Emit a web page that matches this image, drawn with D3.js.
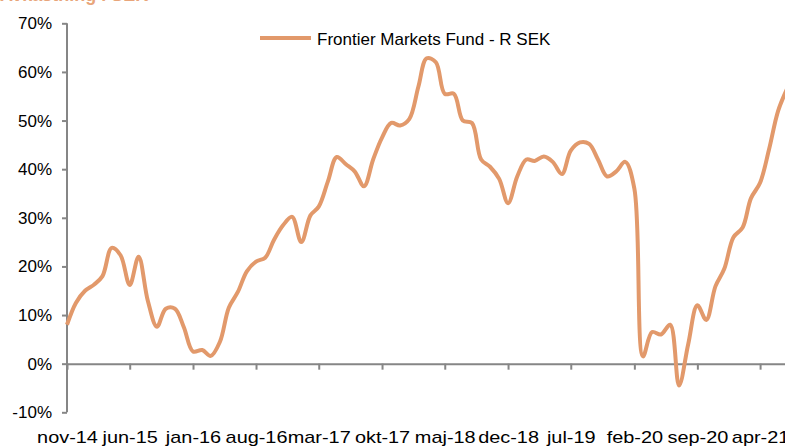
<!DOCTYPE html>
<meta charset="utf-8">
<style>
body { margin: 0; background: #fff; }
svg { display: block; font-family: "Liberation Sans", Arial, sans-serif; }
.line { fill: none; stroke: #e2996b; stroke-width: 4px; }
.axis path, .axis line { stroke: #868686; stroke-width: 2px; }
.axis text { fill: #000; font-size: 17px; }
</style>
<body>
<div id="chart"></div>
<script src="https://d3js.org/d3.v7.min.js"></script>
<script>
// data, one value per month from nov-14
var startMonth = "2014-11";
var fundName = "Frontier Markets Fund - R SEK";
var fundValues = [
  8.0, 12.5, 15.0, 16.3, 18.0, 23.8, 22.3, 16.2, 22.0, 13.0,
  7.6, 11.3, 11.3, 7.5, 2.5, 2.8, 1.6, 4.5, 11.5, 14.8,
  19.0, 21.0, 21.8, 25.5, 28.5, 30.2, 25.0, 30.5, 32.3, 37.5,
  42.5, 41.0, 39.5, 36.5, 42.0, 46.5, 49.5, 49.0, 50.3, 57.0,
  62.8, 62.0, 55.5, 55.5, 50.0, 49.5, 42.0, 40.5, 38.0, 33.0,
  38.5, 42.0, 41.7, 42.6, 41.5, 39.0, 43.8, 45.5, 45.2, 42.0,
  38.5, 39.5, 41.5, 36.0, 1.5, 6.5, 6.0, 8.0, -4.5, 4.0,
  12.0, 9.0, 15.9, 19.5, 26.0, 28.0, 34.0, 37.2, 44.0, 52.0,
  56.5
];
var tickLabels = ["nov-14", "jun-15", "jan-16", "aug-16", "mar-17", "okt-17",
                  "maj-18", "dec-18", "jul-19", "feb-20", "sep-20", "apr-21"];
var yTicks = [-10, 0, 10, 20, 30, 40, 50, 60, 70];

var width = 785, height = 446;

var parseMonth = d3.timeParse("%Y-%m");
var start = parseMonth(startMonth);
var data = fundValues.map(function(v, i) {
  return { date: d3.timeMonth.offset(start, i), value: v };
});

// x: 9px per month, the chart runs past the right edge of the picture
var x = d3.scaleTime()
    .domain([start, d3.timeMonth.offset(start, 80)])
    .range([67, 787]);
var y = d3.scaleLinear().domain([-10, 70]).range([412.3, 23.3]);

var svg = d3.select("#chart").append("svg")
    .attr("width", width)
    .attr("height", height);

// cut-off title at the top
svg.append("text")
    .attr("x", 0).attr("y", 1)
    .attr("fill", "#e8a57a")
    .style("font-weight", "bold")
    .style("font-size", "18px")
    .text("Avkastning i SEK");

// y axis
var yAxis = svg.append("g").attr("class", "axis")
    .attr("transform", "translate(67,0)")
    .call(d3.axisLeft(y).tickValues(yTicks).tickSize(5).tickPadding(10)
      .tickFormat(function(d) { return d + "%"; }));
yAxis.select(".domain").attr("d", "M0," + y(70) + "V" + y(-10));

// x axis at 0%
var tickDates = tickLabels.map(function(t, i) { return d3.timeMonth.offset(start, i * 7); });
var xAxis = svg.append("g").attr("class", "axis")
    .attr("transform", "translate(0," + y(0) + ")")
    .call(d3.axisBottom(x).tickValues(tickDates).tickSize(6).tickSizeOuter(0)
      .tickFormat(function(d, i) { return tickLabels[i]; }));
xAxis.selectAll(".tick text")
    .attr("y", 0).attr("dy", 0)
    .attr("transform", "translate(0," + (443 - y(0)) + ") scale(1.17,1)");

// line
var line = d3.line()
    .x(function(d) { return x(d.date); })
    .y(function(d) { return y(d.value); })
    .curve(d3.curveCatmullRom.alpha(0.5));

svg.append("path")
    .datum(data)
    .attr("class", "line")
    .attr("d", line);

// legend
svg.append("line")
    .attr("x1", 260).attr("x2", 311)
    .attr("y1", 38).attr("y2", 38)
    .attr("stroke", "#e2996b").attr("stroke-width", 4);
svg.append("text")
    .attr("x", 317).attr("y", 45)
    .style("font-size", "17px")
    .attr("fill", "#000")
    .text(fundName);
</script>
</body>
